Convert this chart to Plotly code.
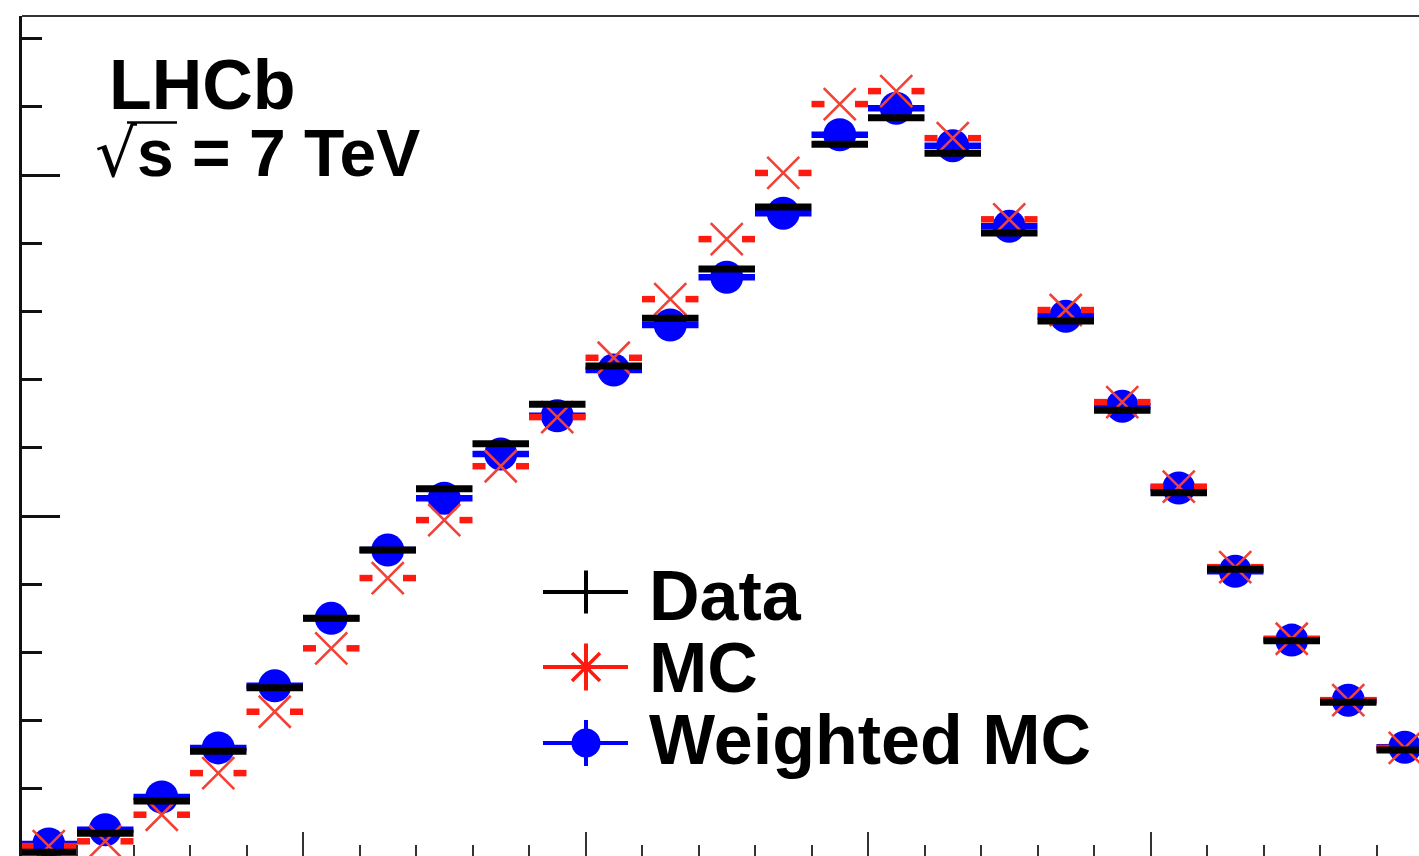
import plotly.graph_objects as go

# Histogram binning: 25 unit-width bins, centres at k + 0.5
bin_centers = [0.5, 1.5, 2.5, 3.5, 4.5, 5.5, 6.5, 7.5, 8.5, 9.5, 10.5, 11.5,
               12.5, 13.5, 14.5, 15.5, 16.5, 17.5, 18.5, 19.5, 20.5, 21.5,
               22.5, 23.5, 24.5]
bin_half_width = 0.5

# Bin contents
data_vals = [0.07, 0.35, 0.82, 1.55, 2.48, 3.50, 4.50, 5.40, 6.06, 6.64,
             7.20, 7.90, 8.62, 9.53, 10.45, 10.84, 10.32, 9.15, 7.86, 6.55,
             5.34, 4.22, 3.17, 2.27, 1.57]
mc_vals = [0.16, 0.23, 0.62, 1.23, 2.13, 3.06, 4.09, 4.94, 5.73, 6.45,
           7.32, 8.18, 9.06, 10.03, 11.04, 11.23, 10.54, 9.35, 8.02, 6.67,
           5.43, 4.25, 3.20, 2.30, 1.60]
wmc_vals = [0.19, 0.40, 0.88, 1.60, 2.51, 3.50, 4.50, 5.26, 5.91, 6.47,
            7.14, 7.80, 8.50, 9.44, 10.59, 10.98, 10.43, 9.25, 7.93, 6.61,
            5.41, 4.19, 3.18, 2.30, 1.61]

legend_labels = ["Data", "MC", "Weighted MC"]

BLUE = "#0000ff"
RED = "#ff1a10"
RED_X = "#f04236"
BLACK = "#000000"

W, H = 1419, 856
ML, MT = 22, 16
PW, PH = W - ML, H - MT


def fx(px):
    return (px - ML) / PW


def fy(py):
    return (H - py) / PH


fig = go.Figure()

# Weighted MC: filled circles with full-bin horizontal bars
fig.add_trace(go.Scatter(
    x=bin_centers, y=wmc_vals, mode="markers",
    marker=dict(symbol="circle", size=33, color=BLUE, line=dict(width=0)),
    error_x=dict(type="constant", value=bin_half_width, thickness=6.5,
                 width=0, color=BLUE),
    showlegend=False, hoverinfo="skip"))

# MC: horizontal bars broken around the marker
gap = 0.27
seg_x, seg_y = [], []
for c, v in zip(bin_centers, mc_vals):
    seg_x += [c - bin_half_width, c - gap, None, c + gap, c + bin_half_width, None]
    seg_y += [v, v, None, v, v, None]
fig.add_trace(go.Scatter(
    x=seg_x, y=seg_y, mode="lines", line=dict(color=RED, width=6.5),
    showlegend=False, hoverinfo="skip"))
fig.add_trace(go.Scatter(
    x=bin_centers, y=mc_vals, mode="markers",
    marker=dict(symbol="x-thin-open", size=32, color=RED_X,
                line=dict(color=RED_X, width=2.6)),
    showlegend=False, hoverinfo="skip"))

# Data: thick black full-bin bars
fig.add_trace(go.Scatter(
    x=bin_centers, y=data_vals, mode="markers",
    marker=dict(size=1, color=BLACK),
    error_x=dict(type="constant", value=bin_half_width, thickness=7,
                 width=0, color=BLACK),
    showlegend=False, hoverinfo="skip"))

# Legend keys drawn on an overlay subplot in frame-fraction units
key_x0, key_x1, key_xc = fx(543), fx(628), fx(586)
row_key_y = [fy(592), fy(667), fy(743)]
row_text_y = [fy(595.5), fy(668), fy(740)]
vert_half = [21.5 / PH, 23.5 / PH, 23 / PH]
key_colors = [BLACK, RED, BLUE]

shapes = []
for ky, vh, col in zip(row_key_y, vert_half, key_colors):
    shapes.append(dict(type="line", xref="paper", yref="paper",
                       x0=key_x0, x1=key_x1, y0=ky, y1=ky,
                       line=dict(color=col, width=4)))
    shapes.append(dict(type="line", xref="paper", yref="paper",
                       x0=key_xc, x1=key_xc, y0=ky - vh, y1=ky + vh,
                       line=dict(color=col, width=4)))

fig.add_trace(go.Scatter(
    x=[key_xc], y=[row_key_y[1]], xaxis="x2", yaxis="y2", mode="markers",
    marker=dict(symbol="x-thin-open", size=28, color=RED,
                line=dict(color=RED, width=3.5)),
    showlegend=False, hoverinfo="skip"))
fig.add_trace(go.Scatter(
    x=[key_xc], y=[row_key_y[2]], xaxis="x2", yaxis="y2", mode="markers",
    marker=dict(symbol="circle", size=29, color=BLUE, line=dict(width=0)),
    showlegend=False, hoverinfo="skip"))

# Frame top edge
shapes.append(dict(type="line", xref="paper", yref="paper", x0=0, x1=1,
                   y0=1, y1=1, line=dict(color="#333333", width=2)))
# Overbar of the square root
shapes.append(dict(type="line", xref="paper", yref="paper",
                   x0=fx(127), x1=fx(177), y0=fy(122.5), y1=fy(122.5),
                   line=dict(color=BLACK, width=2.5)))

SANS = "Liberation Sans, Arial, sans-serif"
bold_font = dict(family=SANS, size=70, color=BLACK)

annotations = []
for lab, ty in zip(legend_labels, row_text_y):
    annotations.append(dict(text="<b>%s</b>" % lab, xref="paper", yref="paper",
                            x=fx(648), y=ty, xanchor="left", yanchor="middle",
                            showarrow=False, borderpad=0, font=bold_font))

annotations.append(dict(text="<b>LHCb</b>", xref="paper", yref="paper",
                        x=fx(108), y=fy(85), xanchor="left", yanchor="middle",
                        showarrow=False, borderpad=0,
                        font=dict(family=SANS, size=70, color=BLACK)))
annotations.append(dict(
    text=("<span style='font-family:DejaVu Sans;font-weight:normal'>√</span>"
          "<b>s = 7 TeV</b>"),
    xref="paper", yref="paper", x=fx(94), y=fy(153.5), xanchor="left",
    yanchor="middle", showarrow=False, borderpad=0,
    font=dict(family=SANS, size=66, color=BLACK)))

fig.update_layout(
    width=W, height=H,
    margin=dict(l=ML, r=0, t=MT, b=0, pad=0),
    paper_bgcolor="white", plot_bgcolor="white",
    showlegend=False,
    shapes=shapes, annotations=annotations,
    xaxis=dict(range=[(ML - 20.5) / 56.5, (W - 20.5) / 56.5],
               showgrid=False, zeroline=False, showline=False,
               showticklabels=False, ticks="inside", tick0=0, dtick=5,
               ticklen=24, tickwidth=1.8, tickcolor="#333333",
               minor=dict(ticks="inside", dtick=1, ticklen=11,
                          tickwidth=1.8, tickcolor="#333333")),
    yaxis=dict(range=[1 / 68.2, (H - MT + 1) / 68.2],
               showgrid=False, zeroline=False, showline=True,
               linecolor="#111111", linewidth=2.5,
               showticklabels=False, ticks="inside", tick0=0, dtick=5,
               ticklen=38, tickwidth=2.5, tickcolor="#111111",
               minor=dict(ticks="inside", dtick=1, ticklen=20,
                          tickwidth=2.5, tickcolor="#111111")),
    xaxis2=dict(overlaying="x", range=[0, 1], visible=False),
    yaxis2=dict(overlaying="y", range=[0, 1], visible=False),
)

fig.write_html("out.html")
